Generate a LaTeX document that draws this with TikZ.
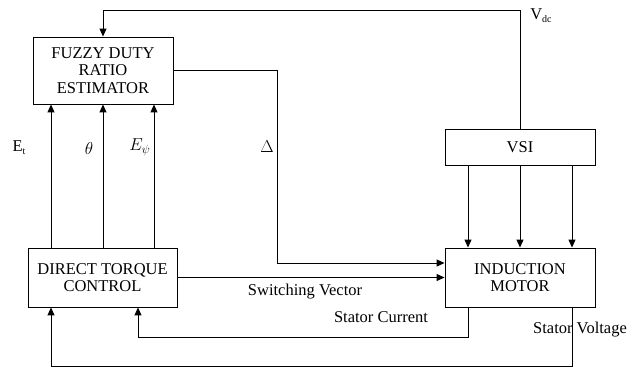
\documentclass[tikz,border=0pt]{standalone}
\usepackage{fontspec}
\setmainfont{Liberation Serif}
\usetikzlibrary{arrows.meta}
\begin{document}
\begin{tikzpicture}[x=1pt,y=-1pt,
  blk/.style={draw,line width=0.9pt,rectangle,inner sep=0pt,align=center,
    font=\fontsize{16.5}{17.5}\selectfont},
  wire/.style={line width=1pt},
  arr/.style={wire,-{Triangle[length=8pt,width=7pt]}},
  lbl/.style={font=\fontsize{16.5}{17.5}\selectfont,inner sep=0pt}]
\useasboundingbox (0,0) rectangle (639,372);
\node[blk,minimum width=140pt,minimum height=67pt] (fuzzy) at (103,70.5) {FUZZY DUTY\\RATIO\\ESTIMATOR};
\node[blk,minimum width=150pt,minimum height=36pt] (vsi) at (520,147) {VSI};
\node[blk,minimum width=150pt,minimum height=59pt] (motor) at (520,277.5) {INDUCTION\\MOTOR};
\node[blk,minimum width=149pt,minimum height=59pt] (dtc) at (102.5,277.5) {DIRECT TORQUE\\CONTROL};
\coordinate (top) at (0,10);
\coordinate (dly) at (277,263);
\coordinate (sc) at (138,337);
\coordinate (sv) at (572,366);
% Vdc feedback
\draw[arr] (vsi.north) -- (vsi.north |- top) -| (fuzzy.north);
% Delta output
\draw[arr] (fuzzy.east) -| (dly) -- (motor.west |- dly);
% Switching vector
\draw[arr] (dtc.east) -- (motor.west);
% signals up
\foreach \x in {51,103,154}
  \draw[arr] (dtc.north -| \x,0) -- (fuzzy.south -| \x,0);
% VSI to motor
\foreach \x in {468,520,572}
  \draw[arr] (vsi.south -| \x,0) -- (motor.north -| \x,0);
% stator current
\draw[arr] (motor.south -| 468,0) |- (sc) -- (dtc.south -| sc);
% stator voltage
\draw[arr] (motor.south -| sv) -- (sv) -| (dtc.south -| 51,0);
% labels
\node[lbl] (lvdc) at (541,16) {V\raisebox{-3pt}{\fontsize{10}{10}\selectfont dc}};
\node[lbl] (let) at (19,148) {E\raisebox{-3pt}{\fontsize{10}{10}\selectfont t}};
\node[lbl] (lth) at (89,148) {$\theta$};
\node[lbl] (lep) at (140,147) {$E_{\psi}$};
\node[lbl] (ldl) at (267,147) {$\Delta$};
\node[lbl] (lsw) at (305,292) {Switching Vector};
\node[lbl] (lsc) at (381,317) {Stator Current};
\node[lbl] (lsv) at (580,330) {Stator Voltage};
\end{tikzpicture}
\end{document}
